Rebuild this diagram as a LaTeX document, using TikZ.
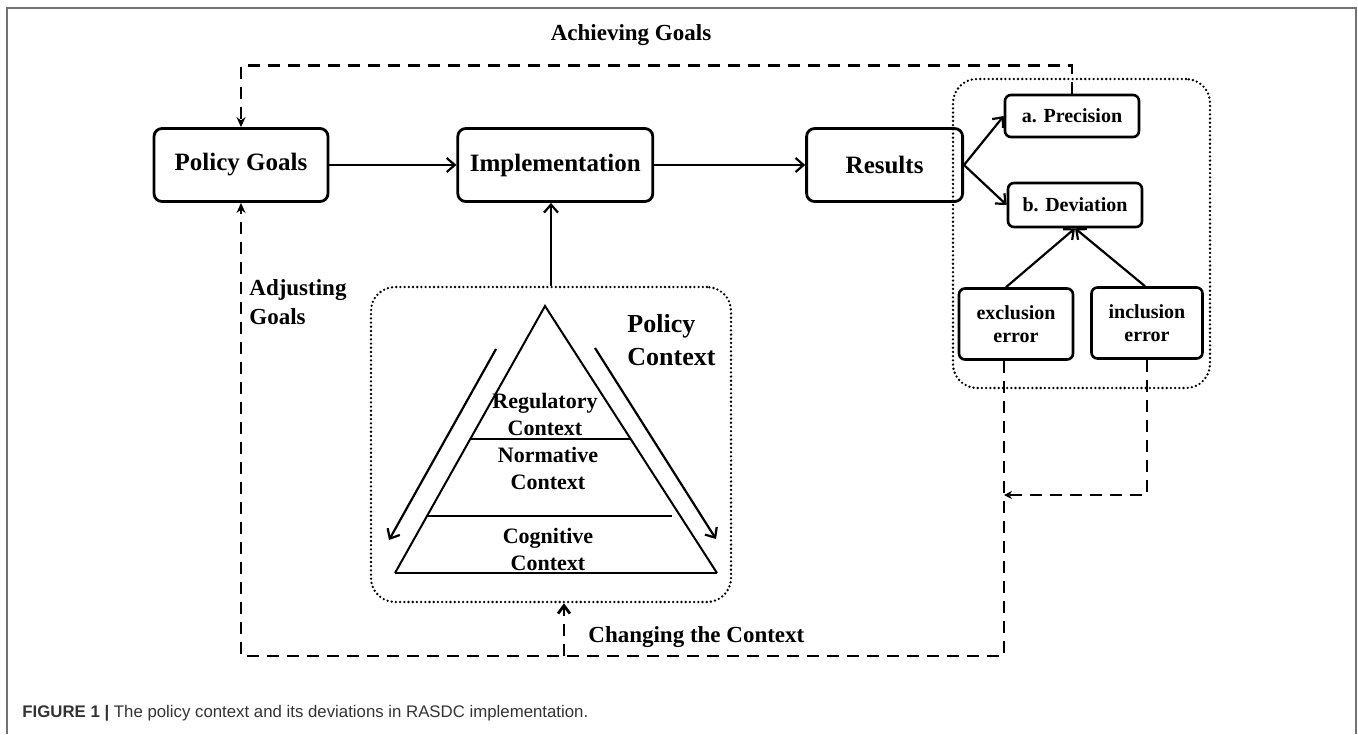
\documentclass[tikz,border=0pt]{standalone}
\usepackage{fontspec}
\setmainfont{Liberation Serif}
\newfontfamily\capfont{Liberation Sans}
\usetikzlibrary{positioning,calc,arrows.meta}
\tikzset{bigbox/.style={draw, line width=1.4pt, rounded corners=4pt, minimum height=36.5pt, inner sep=2pt, font=\fontsize{12.5}{15}\selectfont\bfseries}}
\tikzset{smallbox/.style={draw, line width=1.3pt, rounded corners=3pt, minimum width=67pt, minimum height=21pt, inner sep=1pt, font=\fontsize{10}{12}\selectfont\bfseries}}
\tikzset{errbox/.style={smallbox, align=center, minimum height=35.5pt, font=\fontsize{10}{11.5}\selectfont\bfseries}}
\tikzset{dotbox/.style={draw, line width=1.3pt, line cap=round, dash pattern=on 0pt off 2.1pt, rounded corners=12pt}}
\tikzset{arr/.style={draw, line width=1.1pt, -{Straight Barb[length=4pt,width=7pt]}}}
\tikzset{darr/.style={draw, line width=1.4pt, dash pattern=on 6pt off 4pt, -{Stealth[length=5pt,width=4.5pt]}}}
\tikzset{lbl/.style={font=\fontsize{11.5}{14.5}\selectfont\bfseries, align=left, inner sep=0pt}}
\tikzset{tritext/.style={font=\fontsize{11}{13.5}\selectfont\bfseries, align=center, inner sep=0pt}}

\begin{document}
\begin{tikzpicture}[x=0.5pt, y=-0.5pt]
\useasboundingbox (0,0) rectangle (1358,734);
\draw[black!55, line width=1pt] (7,734) -- (7,8) -- (1356,8) -- (1356,734);

% main chain
\node[bigbox, minimum width=87pt] (goals) at (241,165) {Policy Goals};
\node[bigbox, minimum width=97.5pt, right=63.5pt of goals] (impl) {Implementation};
\node[bigbox, minimum width=78pt, right=75.5pt of impl] (res) {Results};

% results
\node[smallbox] (prec) at (1072,116) {a. Precision};
\node[smallbox, minimum height=22pt] (dev) at (1075,205) {b. Deviation};
\node[errbox, minimum width=57pt] (excl) at (1016,324) {exclusion\\error};
\node[errbox, minimum width=55.5pt] (incl) at (1147,323) {inclusion\\error};
\node[dotbox, minimum width=128.5pt, minimum height=154.5pt] (errs) at (1081.5,233.5) {};

% policy context
\node[dotbox, minimum width=180pt, minimum height=157.5pt] (ctx) at (551,444.5) {};
\coordinate (apex) at (545,306);
\coordinate (bl) at (395,573);
\coordinate (br) at (717,573);
\draw[line width=1pt] (bl) -- (apex) -- (br);
\draw[line width=1.4pt] (bl) -- (br);
\draw[line width=1pt] ($(apex)!0.498!(bl)$) -- ($(apex)!0.498!(br)$);
\draw[line width=1pt] ($(apex)!0.786!(bl)$) -- ++(245,0);
\node[tritext] (reg) at (545,414) {Regulatory\\Context};
\node[tritext] (norm) at (548,468) {Normative\\Context};
\node[tritext] (cogn) at (548,549) {Cognitive\\Context};
\coordinate (ltop) at (496,349);
\coordinate (lbot) at (389,540);
\coordinate (rtop) at (595,348);
\coordinate (rbot) at (716,539);
\draw[arr] (ltop) -- (lbot);
\draw[arr] (rtop) -- (rbot);
\node[font=\fontsize{13}{16.5}\selectfont\bfseries, align=left, anchor=west, inner sep=0pt] (ctxlbl) at (627,340) {Policy\\Context};

% labels
\node[lbl] (achv) at (631,35) {Achieving Goals};
\node[lbl, anchor=west] (adj) at (249,302) {Adjusting\\Goals};
\node[lbl, anchor=west] (chg) at (588,637) {Changing the Context};

% solid arrows
\draw[arr] (goals) -- (impl);
\draw[arr] (impl) -- (res);
\draw[arr] (res.east) -- (prec.west);
\draw[arr] (res.east) -- (dev.west);
\draw[arr] ([xshift=-5pt]excl.north) -- (dev.south);
\draw[arr] ([xshift=-1pt]incl.north) -- (dev.south);
\draw[arr] (ctx.north) -- (ctx.north |- impl.south);

% feedback loops
\draw[darr] (prec.north) -- ++(0,-28) -| (goals.north);
\coordinate (fbturn) at (1004,656);
\coordinate (fbjoin) at (1004,495);
\coordinate (chgfoot) at (564,656);
\draw[darr] ([xshift=-6pt]excl.south) -- (fbturn) -| (goals.south);
\draw[darr, -{Stealth[length=4pt,width=4pt]}] (incl.south) |- (fbjoin);
\draw[darr, -{Straight Barb[length=4pt,width=6pt]}] (chgfoot) -- (chgfoot |- ctx.south);

\node[anchor=west, inner sep=0pt, font=\capfont\fontsize{8.4}{10}\selectfont, text=black!80] (cap) at (22,713) {\textbf{FIGURE 1} \textbf{|} The policy context and its deviations in RASDC implementation.};
\end{tikzpicture}
\end{document}
